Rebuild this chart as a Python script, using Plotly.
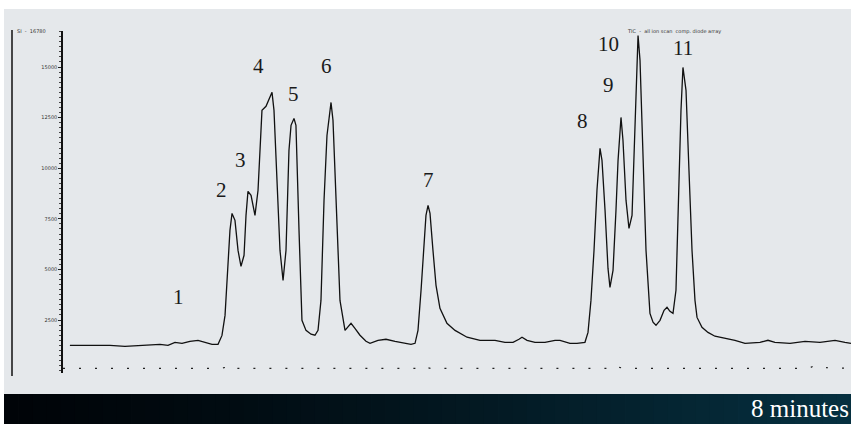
import plotly.graph_objects as go

# ---- data (time in minutes, intensity in counts) ----
time_min = [0.07, 0.20, 0.325, 0.477, 0.629, 0.782, 0.883, 0.985, 1.066, 1.137, 1.208, 1.289, 1.371, 1.442,
            1.513, 1.574, 1.614, 1.645, 1.675, 1.695, 1.716, 1.746, 1.777, 1.807, 1.838, 1.858, 1.878,
            1.909, 1.949, 1.980, 2.010, 2.020, 2.061, 2.102, 2.122, 2.142, 2.173, 2.203, 2.234, 2.264,
            2.294, 2.315, 2.345, 2.365, 2.396, 2.426, 2.467, 2.518, 2.558, 2.589, 2.619, 2.650, 2.680,
            2.721, 2.741, 2.772, 2.812, 2.863, 2.893, 2.924, 2.964, 3.015, 3.076, 3.117, 3.198, 3.279,
            3.371, 3.472, 3.533, 3.574, 3.604, 3.635, 3.665, 3.685, 3.706, 3.726, 3.756, 3.787, 3.827,
            3.898, 3.980, 4.102, 4.234, 4.386, 4.487, 4.569, 4.629, 4.660, 4.711, 4.792, 4.893, 4.995,
            5.046, 5.147, 5.218, 5.299, 5.330, 5.360, 5.391, 5.421, 5.452, 5.472, 5.503, 5.533, 5.553,
            5.584, 5.614, 5.635, 5.665, 5.685, 5.716, 5.746, 5.777, 5.797, 5.817, 5.838, 5.858, 5.888,
            5.919, 5.959, 5.990, 6.020, 6.061, 6.102, 6.132, 6.162, 6.193, 6.223, 6.254, 6.274, 6.294,
            6.325, 6.355, 6.386, 6.416, 6.437, 6.487, 6.548, 6.619, 6.721, 6.822, 6.924, 7.076, 7.157,
            7.228, 7.381, 7.533, 7.685, 7.838, 7.939, 8.000]
intensity = [1250, 1250, 1250, 1250, 1200, 1250, 1250, 1300, 1250, 1400, 1350, 1450, 1500, 1400,
             1300, 1300, 1740, 2730, 4955, 6930, 7770, 7425, 5940, 5150, 5700, 7670, 8860,
             8660, 7670, 8910, 11870, 12860, 13060, 13550, 13750, 12860, 9400, 5940, 4460, 5940,
             10880, 12120, 12460, 12120, 6930, 2485, 1990, 1800, 1750, 1990, 3470, 8410, 11620,
             13250, 12365, 8410, 3470, 1990, 2140, 2340, 2090, 1750, 1450, 1350, 1500, 1550,
             1450, 1350, 1300, 1350, 1990, 3970, 6440, 7670, 8165, 7770, 5940, 4215, 3080,
             2340, 1990, 1650, 1500, 1500, 1400, 1400, 1550, 1650, 1500, 1400, 1400, 1500,
             1500, 1350, 1350, 1400, 1890, 3470, 5940, 8910, 10980, 10390, 7920, 5050, 4115,
             4955, 7920, 10390, 12510, 11380, 8410, 7030, 7670, 10880, 14340, 16560, 15330, 10880,
             5940, 2830, 2390, 2240, 2485, 2980, 3130, 2930, 2830, 3970, 9400, 12860, 14980,
             13850, 9900, 5940, 3470, 2630, 2140, 1890, 1700, 1600, 1500, 1350, 1400, 1500,
             1400, 1350, 1450, 1400, 1500, 1400, 1350]

# reference channel (dotted trace at the bottom)
ref_time = [0.0, 1.60, 1.65, 1.675, 1.70, 1.75, 3.60, 3.64, 3.665, 3.69, 3.73,
            5.56, 5.60, 5.624, 5.65, 5.69, 7.57, 7.61, 7.635, 7.66, 7.72, 8.0]
ref_intensity = [114, 114, 160, 260, 160, 114, 114, 160, 230, 160, 114,
                 114, 160, 250, 160, 114, 114, 180, 260, 200, 150, 114]

peak_labels = ["1", "2", "3", "4", "5", "6", "7", "8", "9", "10", "11"]
label_time = [1.168, 1.614, 1.797, 1.980, 2.335, 2.670, 3.706, 5.279, 5.543, 5.543, 6.294]
label_intensity = [3620, 8910, 10390, 15030, 13650, 15030, 9400, 12320, 14090, 16120, 15920]

ytick_vals = [2500, 5000, 7500, 10000, 12500, 15000]
ytick_text = ["2500", "5000", "7500", "10000", "12500", "15000"]

run_label = "8 minutes"

# ---- figure ----
W, H = 851, 424
L, R, T, B = 63, 0, 31, 51
pw, ph = W - L - R, H - T - B


def px(x):
    return (x - L) / pw


def py(y):
    return (H - B - y) / ph


fig = go.Figure()
fig.add_trace(go.Scatter(x=ref_time, y=ref_intensity, mode="lines",
                         line=dict(color="#222", width=1.2, dash="2px,14px"),
                         hoverinfo="skip", showlegend=False))
fig.add_trace(go.Scatter(x=time_min, y=intensity, mode="lines",
                         line=dict(color="#111", width=1.3),
                         showlegend=False))

for t, yv, s in zip(label_time, label_intensity, peak_labels):
    fig.add_annotation(x=t, y=yv, text=s, showarrow=False,
                       font=dict(family="Liberation Serif, DejaVu Serif, serif", size=21, color="#1a1a1a"))

shapes = []
# gray panel
shapes.append(dict(type="rect", xref="paper", yref="paper", x0=px(4), x1=px(W), y0=py(394), y1=py(9),
                   fillcolor="#e5e8eb", line=dict(width=0), layer="below"))
# gradient band
n = 60
c0 = (0, 4, 8)
c1 = (6, 48, 64)
for i in range(n):
    f = i / (n - 1)
    f2 = f ** 1.3
    col = "rgb(%d,%d,%d)" % tuple(round(a + (b - a) * f2) for a, b in zip(c0, c1))
    x0 = 4 + (W - 4) * i / n
    x1 = 4 + (W - 4) * (i + 1) / n + 0.8
    shapes.append(dict(type="rect", xref="paper", yref="paper", x0=px(x0), x1=px(min(x1, W)),
                       y0=py(H), y1=py(394), fillcolor=col, line=dict(width=0), layer="below"))
# left frame line
shapes.append(dict(type="line", xref="paper", yref="paper", x0=px(12), x1=px(12), y0=py(376), y1=py(30),
                   line=dict(color="#111", width=1.5)))

fig.add_annotation(xref="paper", yref="paper", x=1, y=py(409), xanchor="right", yanchor="middle",
                   xshift=0, text=run_label, showarrow=False,
                   font=dict(family="Liberation Serif, DejaVu Serif, serif", size=25, color="white"))
fig.add_annotation(xref="paper", yref="paper", x=px(15), y=py(31), xanchor="left", yanchor="middle",
                   text="SI  -  16780", showarrow=False,
                   font=dict(family="DejaVu Sans", size=5, color="#333"))
fig.add_annotation(xref="paper", yref="paper", x=px(625), y=py(32), xanchor="left", yanchor="middle",
                   text="TIC  -  all ion scan  comp. diode array", showarrow=False,
                   font=dict(family="DejaVu Sans", size=5, color="#333"))

fig.update_layout(
    width=W, height=H,
    margin=dict(l=L, r=R, t=T, b=B),
    paper_bgcolor="white", plot_bgcolor="rgba(0,0,0,0)",
    shapes=shapes,
    xaxis=dict(range=[0, 8.0], showgrid=False, zeroline=False, showline=False,
               showticklabels=False, ticks=""),
    yaxis=dict(range=[-116, 16780], showgrid=False, zeroline=False, showline=True,
               linecolor="#111", linewidth=1.5, ticks="outside", ticklen=3, tickcolor="#222",
               tickvals=ytick_vals, ticktext=ytick_text,
               tickfont=dict(family="DejaVu Sans", size=5, color="#333"),
               minor=dict(ticks="outside", ticklen=2, dtick=250, tickcolor="#444", tick0=0)),
    showlegend=False,
)

fig.write_html("out.html", config={"displayModeBar": False},
               post_script="document.body.style.margin='0';document.body.style.overflow='hidden';")
